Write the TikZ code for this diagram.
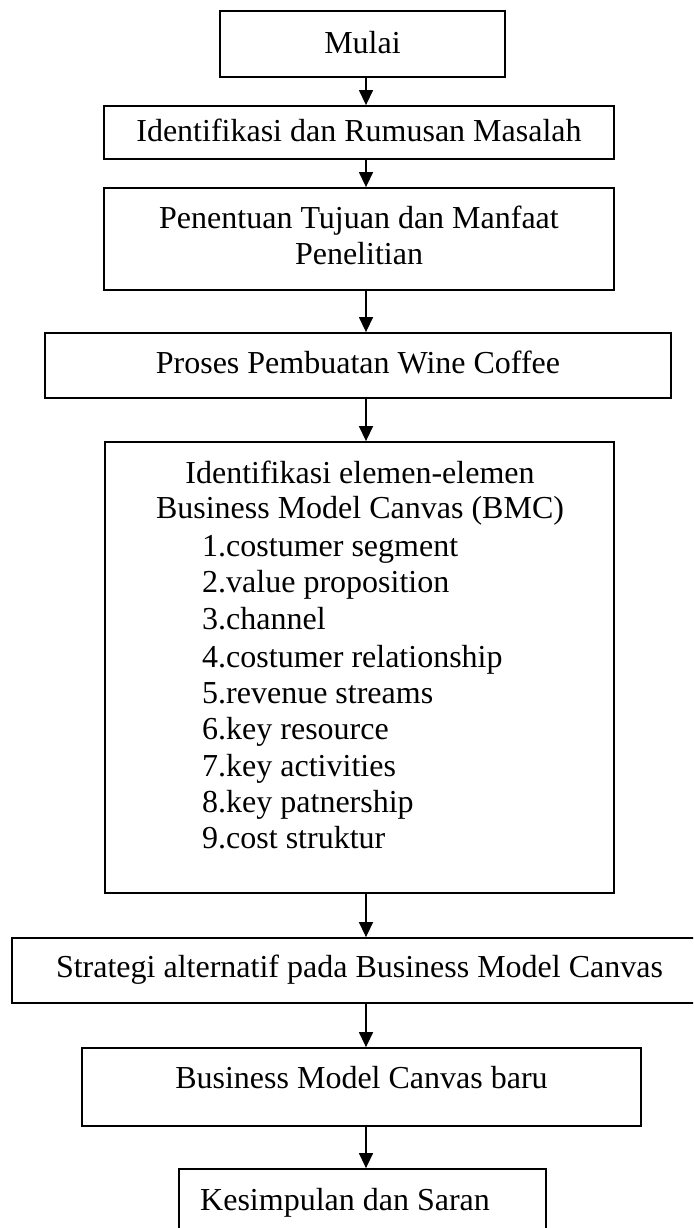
\documentclass[tikz,border=0pt]{standalone}
\usepackage{fontspec}
\setmainfont{Liberation Serif}
\usetikzlibrary{arrows.meta}
\begin{document}
\begin{tikzpicture}[x=1pt,y=-1pt,
  boxnode/.style={draw, line width=1.8pt, rectangle, inner sep=0pt},
  txt/.style={inner sep=0pt, font=\fontsize{32}{36.5}\selectfont},
  arr/.style={line width=1.4pt, -{Triangle[length=15pt,width=14pt]}}]
\clip (0,0) rectangle (693,1228);
\fill[white] (0,0) rectangle (693,1228);
\coordinate (ax) at (366,0);
% boxes
\node[boxnode, minimum width=285pt, minimum height=66pt] (mulai) at (362.5,44) {};
\node[boxnode, minimum width=510pt, minimum height=53pt] (ident) at (359,132.5) {};
\node[boxnode, minimum width=510pt, minimum height=102pt] (pen) at (359,239) {};
\node[boxnode, minimum width=626pt, minimum height=65pt] (proses) at (358,365.5) {};
\node[boxnode, minimum width=509pt, minimum height=451pt] (bmc) at (359.5,667.5) {};
\node[boxnode, minimum width=700pt, minimum height=65pt] (strat) at (362,970.5) {};
\node[boxnode, minimum width=559pt, minimum height=78pt] (baru) at (361.5,1087) {};
\node[boxnode, minimum width=367pt, minimum height=120pt] (kes) at (362.5,1229) {};
% texts
\node[txt, anchor=base] (tmulai) at (362.5,54) {Mulai};
\node[txt, anchor=base] (tident) at (359,142) {Identifikasi dan Rumusan Masalah};
\node[txt, anchor=base] (tpen1) at (359,228) {Penentuan Tujuan dan Manfaat};
\node[txt, anchor=base] (tpen2) at (359,264) {Penelitian};
\node[txt, anchor=base] (tproses) at (358,373) {Proses Pembuatan Wine Coffee};
\node[txt, anchor=base] (tbmc1) at (360,483) {Identifikasi elemen-elemen};
\node[txt, anchor=base] (tbmc2) at (360,518) {Business Model Canvas (BMC)};
\node[txt, anchor=base west] (i1) at (202,556) {1.costumer segment};
\node[txt, anchor=base west] (i2) at (202,592) {2.value proposition};
\node[txt, anchor=base west] (i3) at (202,629) {3.channel};
\node[txt, anchor=base west] (i4) at (202,667) {4.costumer relationship};
\node[txt, anchor=base west] (i5) at (202,703) {5.revenue streams};
\node[txt, anchor=base west] (i6) at (202,739) {6.key resource};
\node[txt, anchor=base west] (i7) at (202,776) {7.key activities};
\node[txt, anchor=base west] (i8) at (202,812) {8.key patnership};
\node[txt, anchor=base west] (i9) at (202,848) {9.cost struktur};
\node[txt, anchor=base] (tstrat) at (359.5,977) {Strategi alternatif pada Business Model Canvas};
\node[txt, anchor=base] (tbaru) at (361.5,1088) {Business Model Canvas baru};
\node[txt, anchor=base west] (tkes) at (200,1210) {Kesimpulan dan Saran};
% connectors
\draw[arr] (mulai.south -| ax) -- (ident.north -| ax);
\draw[arr] (ident.south -| ax) -- (pen.north -| ax);
\draw[arr] (pen.south -| ax) -- (proses.north -| ax);
\draw[arr] (proses.south -| ax) -- (bmc.north -| ax);
\draw[arr] (bmc.south -| ax) -- (strat.north -| ax);
\draw[arr] (strat.south -| ax) -- (baru.north -| ax);
\draw[arr] (baru.south -| ax) -- (kes.north -| ax);
\end{tikzpicture}
\end{document}
